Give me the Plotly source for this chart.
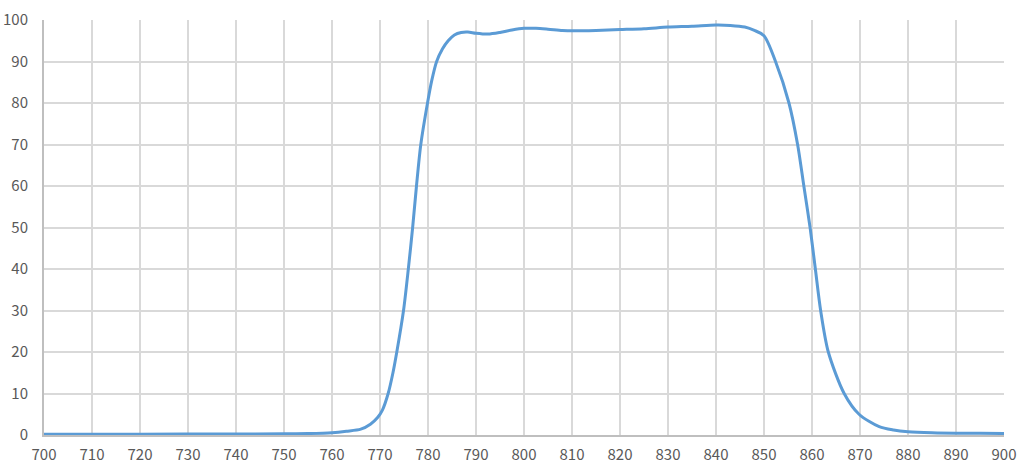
import plotly.graph_objects as go

wavelength = [700, 720, 740, 750, 755, 760, 763, 766, 768, 769.5, 770.5, 771.7, 772.7, 773.5,
              774.9, 775.9, 776.8, 777.6, 778.5, 779.9, 780.8, 781.8, 783.0,
              784.2, 785.5, 786.9, 788.3, 790.0, 792.5, 795.0, 797.5, 800.0, 802.5, 805.0,
              808.0, 810.0, 815.0, 820.0, 825.0, 830.0, 835.0, 840.0, 843.0, 846.0, 848.0,
              850.0, 852.4, 855.2, 857.0, 858.3, 859.6, 860.7, 861.8,
              863.4, 866.7, 869.8, 874.0, 877.0, 880.0, 885.0, 890.0,
              895.0, 900.0]
transmission = [0.2, 0.2, 0.25, 0.3, 0.35, 0.55, 0.9, 1.4, 2.6, 4.2, 6.0, 10.0, 15.0, 20.0,
                30.0, 40.0, 50.0, 60.0, 70.0, 80.0, 85.5, 90.0, 93.0,
                95.0, 96.4, 97.0, 97.1, 96.8, 96.6, 97.0, 97.6, 98.0, 98.0, 97.8,
                97.5, 97.4, 97.5, 97.7, 97.9, 98.3, 98.5, 98.8, 98.7, 98.3, 97.5,
                96.2, 90.0, 80.0, 70.0, 60.0, 50.0, 40.0, 30.0,
                20.0, 10.0, 5.0, 2.0, 1.2, 0.8, 0.55, 0.45,
                0.45, 0.35]

x_ticks = list(range(700, 901, 10))
y_ticks = list(range(0, 101, 10))

fig = go.Figure()
fig.add_trace(go.Scatter(
    x=wavelength, y=transmission, mode="lines",
    line=dict(color="#5b9bd5", width=3, shape="spline", smoothing=0.8),
    showlegend=False, hoverinfo="skip",
))

font_family = "Noto Sans CJK SC, Noto Sans, DejaVu Sans, sans-serif"
fig.update_layout(
    width=1022, height=467,
    margin=dict(l=44, r=18, t=20, b=32),
    paper_bgcolor="white", plot_bgcolor="white",
    font=dict(family=font_family, size=15, color="#595959"),
)
fig.update_xaxes(
    range=[700, 900], tickvals=x_ticks, ticktext=[str(v) for v in x_ticks],
    showgrid=True, gridcolor="#d9d9d9", gridwidth=2,
    showline=True, linecolor="#bfbfbf", linewidth=2, mirror=False,
    zeroline=False, ticks="", ticklabelstandoff=5, automargin=False,
    tickfont=dict(size=15, color="#595959"),
)
fig.update_yaxes(
    range=[0, 100], tickvals=y_ticks, ticktext=[str(v) for v in y_ticks],
    showgrid=True, gridcolor="#d9d9d9", gridwidth=2,
    showline=True, linecolor="#bfbfbf", linewidth=2,
    zeroline=False, ticks="", ticklabelstandoff=11, automargin=False,
    tickfont=dict(size=15, color="#595959"),
)

fig.write_html(
    "out.html",
    config={"displayModeBar": False},
    post_script="document.body.style.margin='0';document.body.style.overflow='hidden';",
)
